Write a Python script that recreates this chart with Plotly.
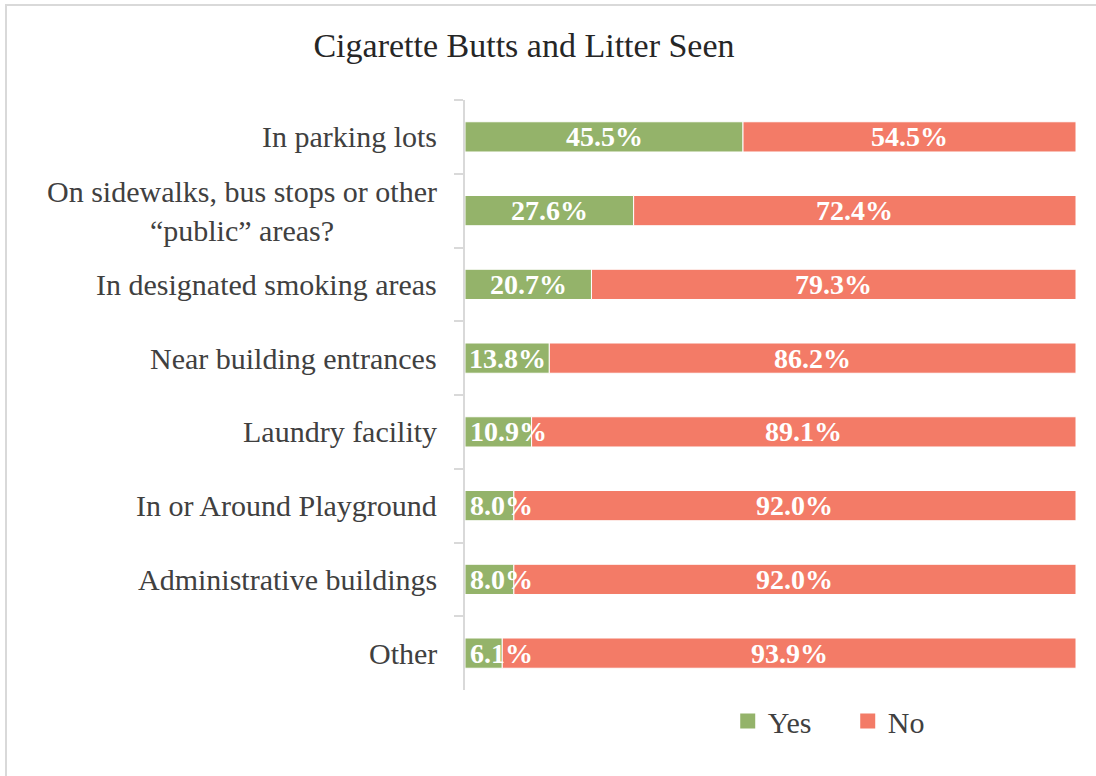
import plotly.graph_objects as go

categories = [
    "In parking lots",
    "On sidewalks, bus stops or other<br>\u201cpublic\u201d areas?",
    "In designated smoking areas",
    "Near building entrances",
    "Laundry facility",
    "In or Around Playground",
    "Administrative buildings",
    "Other",
]
yes_pct = [45.5, 27.6, 20.7, 13.8, 10.9, 8.0, 8.0, 6.1]
no_pct = [54.5, 72.4, 79.3, 86.2, 89.1, 92.0, 92.0, 93.9]
series_names = ["Yes", "No"]

GREEN = "#94B36A"
RED = "#F37B67"
FONT = "'Liberation Serif', 'DejaVu Serif', serif"

W, H = 1096, 776
L, R, T, B = 465, 20, 100, 86
PW, PH = W - L - R, H - T - B

fig = go.Figure()
fig.add_trace(go.Bar(
    y=categories, x=yes_pct, name=series_names[0], orientation="h", showlegend=False,
    marker=dict(color=GREEN, line=dict(color="white", width=1)),
))
fig.add_trace(go.Bar(
    y=categories, x=no_pct, name=series_names[1], orientation="h", base=yes_pct, showlegend=False,
    marker=dict(color=RED, line=dict(color="white", width=1)),
))
# legend entries with square swatches
for name, color in zip(series_names, [GREEN, RED]):
    fig.add_trace(go.Scatter(x=[None], y=[None], mode="markers", name=name,
                             marker=dict(symbol="square", size=15, color=color)))

label_font = dict(family=FONT, size=28, color="white")
annotations = []
for cat, y_val, n_val in zip(categories, yes_pct, no_pct):
    if y_val < 13:
        # too narrow to center: keep the label inside the plot, starting at the bar's left edge
        annotations.append(dict(x=0, y=cat, xref="x", yref="y", text=f"<b>{y_val:.1f}%</b>",
                                showarrow=False, xanchor="left", xshift=3, font=label_font))
    else:
        annotations.append(dict(x=y_val / 2, y=cat, xref="x", yref="y", text=f"<b>{y_val:.1f}%</b>",
                                showarrow=False, xanchor="center", font=label_font))
    annotations.append(dict(x=y_val + n_val / 2, y=cat, xref="x", yref="y", text=f"<b>{n_val:.1f}%</b>",
                            showarrow=False, xanchor="center", font=label_font))
    # category label, lines centered against each other
    annotations.append(dict(x=0, y=cat, xref="paper", yref="y", text=cat, showarrow=False,
                            xanchor="right", align="center", xshift=-26,
                            font=dict(family=FONT, size=30, color="#404040")))

fig.update_layout(
    width=W, height=H,
    margin=dict(l=L, r=R, t=T, b=B),
    paper_bgcolor="white", plot_bgcolor="white",
    barmode="overlay", bargap=0.59,
    title=dict(text="Cigarette Butts and Litter Seen", x=524 / W, xref="container", xanchor="center",
               y=1 - 45 / H, yref="container", yanchor="middle",
               font=dict(family=FONT, size=34, color="#262626")),
    xaxis=dict(range=[0, 100], visible=False, showgrid=False, fixedrange=True),
    yaxis=dict(autorange="reversed", showticklabels=False, showline=True, linecolor="#D9D9D9",
               linewidth=2, ticks="outside", ticklen=9, tickwidth=2, tickcolor="#D9D9D9",
               tickson="boundaries", showgrid=False),
    legend=dict(orientation="h", x=0.43, xanchor="left", y=(690 - 721) / PH, yanchor="middle",
                font=dict(family=FONT, size=30, color="#404040"),
                entrywidth=75, entrywidthmode="pixels", traceorder="normal"),
    annotations=annotations,
    shapes=[dict(type="rect", xref="paper", yref="paper",
                 x0=(6 - L) / PW, x1=(W + 10 - L) / PW,
                 y0=(H - B - (H + 10)) / PH, y1=(H - B - 5) / PH,
                 line=dict(color="#D9D9D9", width=2), fillcolor="rgba(0,0,0,0)", layer="below")],
)

fig.write_html("out.html")
